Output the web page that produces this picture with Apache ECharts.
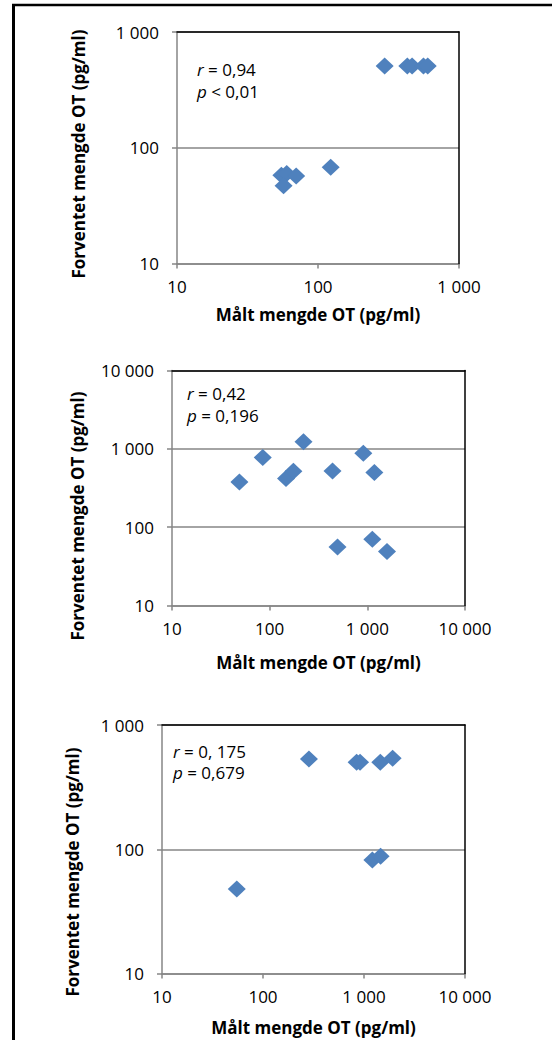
<!DOCTYPE html>
<html>
<head>
<meta charset="utf-8">
<script src="https://cdn.jsdelivr.net/npm/echarts@6/dist/echarts.min.js"></script>
<style>
html,body{margin:0;padding:0;background:#fff;}
#chart{width:552px;height:1040px;}
</style>
</head>
<body>
<div id="chart"></div>
<script>
// ---- data ----
const xTitle = 'Målt mengde OT (pg/ml)';
const yTitle = 'Forventet mengde OT (pg/ml)';

const measured1 = [297, 430, 465, 560, 600, 55, 60, 70, 57, 123];
const expected1 = [508, 508, 508, 508, 508, 58, 60, 57, 47, 68];

const measured2 = [49, 85, 222, 147, 175, 440, 910, 1180, 495, 1125, 1590];
const expected2 = [378, 776, 1230, 417, 518, 522, 880, 498, 56, 70, 49];

const measured3 = [55, 285, 845, 914, 1450, 1920, 1210, 1460];
const expected3 = [48, 533, 501, 501, 501, 540, 82, 88];

const xRange1 = [10, 1000];
const yRange1 = [10, 1000];
const xRange2 = [10, 10000];
const yRange2 = [10, 10000];
const xRange3 = [10, 10000];
const yRange3 = [10, 1000];

const tickLabels = {10: '10', 100: '100', 1000: '1 000', 10000: '10 000'};

const stats1 = ['r', ' = 0,94', 'p', ' < 0,01'];
const stats2 = ['r', ' = 0,42', 'p', ' = 0,196'];
const stats3 = ['r', ' = 0, 175', 'p', ' = 0,679'];

// ---- layout ----
const FONT = 'Open Sans';
const grids = [
  {left: 177, top: 32, width: 282, height: 231.5},
  {left: 172, top: 370.5, width: 293, height: 235},
  {left: 162, top: 725, width: 303, height: 248.6}
];
const xRanges = [xRange1, xRange2, xRange3];
const yRanges = [yRange1, yRange2, yRange3];
const xNameGaps = [42, 48, 45];
const yTitlePos = [[78, 154], [77, 516], [72, 872]];
const statPos = [[197, 69, 91], [187, 393, 415], [173, 751, 772]];
const statsAll = [stats1, stats2, stats3];
const dataAll = [
  measured1.map((m, i) => [m, expected1[i]]),
  measured2.map((m, i) => [m, expected2[i]]),
  measured3.map((m, i) => [m, expected3[i]])
];

const fmt = v => tickLabels[Math.round(v)] || String(Math.round(v));
const grey = '#868686';

const xAxes = [], yAxes = [], series = [], graphics = [];
grids.forEach((g, i) => {
  xAxes.push({
    type: 'log', logBase: 10, gridIndex: i, min: xRanges[i][0], max: xRanges[i][1],
    position: 'bottom',
    axisLine: {lineStyle: {color: grey, width: 1.5}},
    axisTick: {show: true, length: 5, lineStyle: {color: grey, width: 1.5}},
    axisLabel: {fontSize: 17, fontFamily: FONT, color: '#000', margin: 14, formatter: fmt},
    splitLine: {show: false},
    minorTick: {show: false},
    name: xTitle, nameLocation: 'middle', nameGap: xNameGaps[i],
    nameTextStyle: {fontSize: 17, fontFamily: FONT, fontWeight: 'bold', color: '#000'}
  });
  yAxes.push({
    type: 'log', logBase: 10, gridIndex: i, min: yRanges[i][0], max: yRanges[i][1],
    position: 'left',
    axisLine: {show: true, lineStyle: {color: grey, width: 1.5}},
    axisTick: {show: true, length: 5, lineStyle: {color: grey, width: 1.5}},
    axisLabel: {fontSize: 17, fontFamily: FONT, color: '#000', margin: 18, formatter: fmt},
    splitLine: {show: true, lineStyle: {color: grey, width: 1.5}},
    minorTick: {show: false}
  });
  series.push({
    type: 'scatter', xAxisIndex: i, yAxisIndex: i,
    symbol: 'diamond', symbolSize: [18, 17],
    itemStyle: {color: '#4F81BD', opacity: 1},
    data: dataAll[i], z: 3
  });
});
// top/right borders (black)
grids.forEach((g, i) => {
  xAxes.push({
    type: 'log', logBase: 10, gridIndex: i, min: xRanges[i][0], max: xRanges[i][1],
    position: 'top', z: 5,
    axisLine: {show: true, lineStyle: {color: '#000', width: 1.5}},
    axisTick: {show: false}, axisLabel: {show: false}, splitLine: {show: false}
  });
  yAxes.push({
    type: 'log', logBase: 10, gridIndex: i, min: yRanges[i][0], max: yRanges[i][1],
    position: 'right', z: 5,
    axisLine: {show: true, lineStyle: {color: '#000', width: 1.5}},
    axisTick: {show: false}, axisLabel: {show: false}, splitLine: {show: false}
  });
});

grids.forEach((g, i) => {
  graphics.push({
    type: 'text', x: yTitlePos[i][0], y: yTitlePos[i][1], rotation: Math.PI / 2,
    style: {text: yTitle, fontSize: 17, fontFamily: FONT, fontWeight: 'bold', fill: '#000',
      align: 'center', verticalAlign: 'middle'}
  });
  const s = statsAll[i];
  [[s[0], s[1], statPos[i][1]], [s[2], s[3], statPos[i][2]]].forEach(([v, rest, y]) => {
    graphics.push({
      type: 'text', x: statPos[i][0], y: y,
      style: {text: '{i|' + v + '}' + rest, fontSize: 17, fontFamily: FONT, fill: '#000',
        align: 'left', verticalAlign: 'middle',
        rich: {i: {fontStyle: 'italic', fontSize: 17, fontFamily: FONT, fill: '#000'}}}
    });
  });
});
// outer frame lines
graphics.push({type: 'line', shape: {x1: 13.5, y1: 4, x2: 13.5, y2: 1040}, style: {stroke: '#000', lineWidth: 3}});
graphics.push({type: 'line', shape: {x1: 12, y1: 5, x2: 552, y2: 5}, style: {stroke: '#000', lineWidth: 2.5}});

const chart = echarts.init(document.getElementById('chart'), null, {renderer: 'svg'});
chart.setOption({
  backgroundColor: '#fff',
  animation: false,
  grid: grids.map(g => Object.assign({containLabel: false}, g)),
  xAxis: xAxes,
  yAxis: yAxes,
  series: series,
  graphic: graphics
});
</script>
</body>
</html>
